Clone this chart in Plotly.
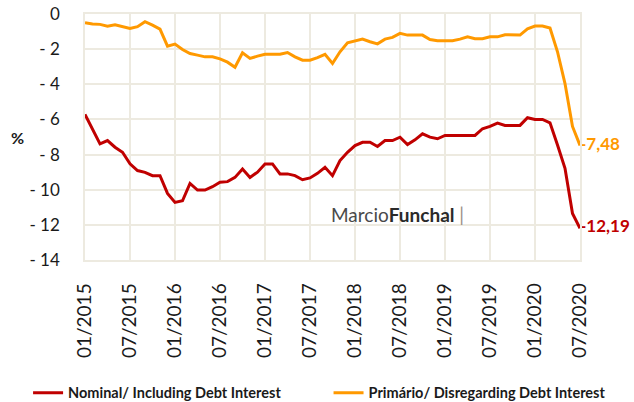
import plotly.graph_objects as go

months = [f"{m:02d}/{y}" for y in range(2015, 2021) for m in range(1, 13)][:67]

nominal = [-5.71, -6.53, -7.39, -7.20, -7.58, -7.87, -8.53, -8.91, -9.01, -9.20,
           -9.20, -10.21, -10.72, -10.63, -9.64, -10.02, -10.02, -9.83, -9.58, -9.54,
           -9.30, -8.82, -9.30, -9.00, -8.53, -8.53, -9.10, -9.10, -9.20, -9.43,
           -9.33, -9.07, -8.72, -9.20, -8.34, -7.87, -7.49, -7.30, -7.30, -7.54,
           -7.20, -7.20, -7.01, -7.43, -7.16, -6.82, -7.01, -7.10, -6.91, -6.91,
           -6.91, -6.91, -6.91, -6.53, -6.40, -6.21, -6.34, -6.34, -6.34, -5.90,
           -6.00, -6.00, -6.19, -7.45, -8.78, -11.35, -12.19]

primario = [-0.50, -0.57, -0.59, -0.69, -0.61, -0.72, -0.82, -0.72, -0.44, -0.63,
            -0.86, -1.83, -1.71, -2.02, -2.25, -2.34, -2.44, -2.44, -2.55, -2.74,
            -3.03, -2.21, -2.53, -2.40, -2.29, -2.29, -2.29, -2.19, -2.44, -2.63,
            -2.63, -2.48, -2.30, -2.82, -2.15, -1.64, -1.54, -1.43, -1.58, -1.70,
            -1.43, -1.33, -1.10, -1.20, -1.20, -1.20, -1.45, -1.52, -1.52, -1.52,
            -1.43, -1.30, -1.41, -1.41, -1.30, -1.30, -1.18, -1.18, -1.20, -0.84,
            -0.69, -0.69, -0.80, -2.15, -3.96, -6.40, -7.48]

x_ticks = ["01/2015", "07/2015", "01/2016", "07/2016", "01/2017", "07/2017",
           "01/2018", "07/2018", "01/2019", "07/2019", "01/2020", "07/2020"]
y_ticks = [0, -2, -4, -6, -8, -10, -12, -14]
y_ticktext = ["0", "- 2", "- 4", "- 6", "- 8", "- 10", "- 12", "- 14"]

series_names = ["Nominal/ Including Debt Interest", "Primário/ Disregarding Debt Interest"]
colors = ["#C00000", "#FF9900"]
legend_ids = ["legend", "legend2"]

FONT = "Lato, 'Open Sans', sans-serif"


def end_label(vals):
    t = [""] * len(vals)
    t[-1] = f"{vals[-1]:.2f}".replace(".", ",")
    return t


fig = go.Figure()
for name, vals, col, lg in zip(series_names, [nominal, primario], colors, legend_ids):
    fig.add_trace(go.Scatter(
        x=months, y=vals, name=name, mode="lines+text", legend=lg,
        line=dict(color=col, width=3),
        text=end_label(vals), textposition="middle right",
        textfont=dict(family=FONT, size=17, color=col, weight="bold"),
        cliponaxis=False,
    ))

grid = "#EDEAE0"
legend_style = dict(
    orientation="h", xref="paper", yref="paper", y=-0.54,
    xanchor="left", yanchor="middle",
    font=dict(family=FONT, size=14.5, weight="bold", color="#1a1a1a"),
    itemclick=False, itemdoubleclick=False,
)
fig.update_layout(
    width=634, height=402,
    margin=dict(l=85, r=54, t=14, b=142, autoexpand=False),
    paper_bgcolor="white", plot_bgcolor="white",
    font=dict(family=FONT, color="#1a1a1a"),
    showlegend=True,
    legend=dict(x=-0.115, **legend_style),
    legend2=dict(x=0.492, **legend_style),
    xaxis=dict(
        type="category", categoryorder="array", categoryarray=months,
        range=[0, len(months) - 1], automargin=False,
        tickmode="array", tickvals=x_ticks, ticktext=x_ticks,
        tickangle=-90, tickfont=dict(family=FONT, size=19, color="#1a1a1a"),
        showgrid=True, gridcolor=grid, gridwidth=1.5,
        showline=True, linecolor=grid, linewidth=1.5, mirror=True,
        zeroline=False, ticks="", ticklabelstandoff=14,
    ),
    yaxis=dict(
        range=[-14, 0], automargin=False, ticklabeloverflow="allow",
        tickmode="array", tickvals=y_ticks, ticktext=y_ticktext,
        tickfont=dict(family=FONT, size=17, color="#1a1a1a"),
        showgrid=True, gridcolor=grid, gridwidth=1.5,
        showline=True, linecolor=grid, linewidth=1.5, mirror=True,
        zeroline=False, ticks="", ticklabelstandoff=20,
    ),
    shapes=[dict(
        type="rect", xref="paper", yref="paper",
        x0=0.44, x1=0.826, y0=0.028, y1=0.248,
        fillcolor="white", line=dict(width=0), layer="between",
    )],
    annotations=[
        dict(text="<b>%</b>", xref="paper", yref="paper", x=-0.154, y=0.496,
             showarrow=False, font=dict(family=FONT, size=16, color="#1a1a1a")),
        dict(text="<span style='color:#4a4a4a'>Marcio</span><b>Funchal</b>"
                  "<span style='color:#9a8f85'> |</span>",
             xref="paper", yref="paper", x=0.631, y=0.13, showarrow=False,
             font=dict(family=FONT, size=19, color="#2a2a2a")),
    ],
)

fig.write_html("out.html", config={"displayModeBar": False},
               post_script="document.body.style.margin='0';")
